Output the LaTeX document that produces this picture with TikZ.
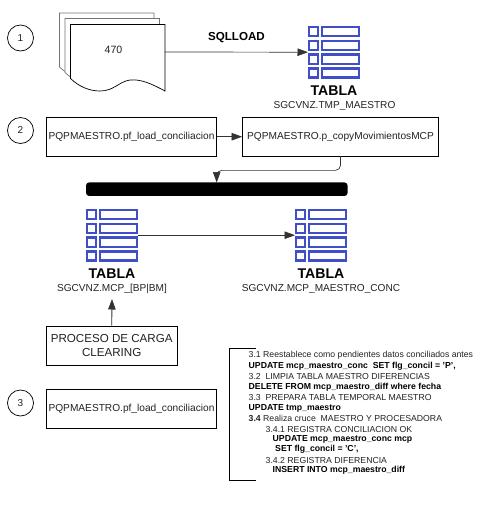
\documentclass[tikz,border=0pt]{standalone}
\usepackage{fontspec}
\setmainfont{Liberation Sans}
\usetikzlibrary{arrows.meta}
\definecolor{iconblue}{HTML}{3F4FC8}
\definecolor{linegray}{HTML}{333333}
\definecolor{txtgray}{HTML}{222222}
\newcommand{\tablaicon}[3]{%
  \node[anchor=north west,inner sep=0pt,minimum width=52,minimum height=52] (#1) at (#2,#3) {};
  \foreach \r in {0,1,2,3}{
    \draw[iconstroke] (#2+1,#3-1.1-13.75*\r) rectangle ++(9.2,-9.2);
    \draw[iconstroke] (#2+14,#3-1.1-13.75*\r) rectangle ++(37,-9.2);
  }%
}
\tikzset{
  x=1pt,y=1pt,
  iconstroke/.style={draw=iconblue,line width=2.3pt,fill=white},
  stepnum/.style={circle,draw=black,line width=0.7pt,minimum size=26,inner sep=0pt,font=\fontsize{10}{12}\selectfont,text=txtgray},
  procbox/.style={draw=black,line width=0.8pt,fill=white,inner sep=0pt,font=\fontsize{10.15}{12}\selectfont,text=txtgray,align=center},
  tabla/.style={font=\bfseries\fontsize{14.1}{16}\selectfont,text=black},
  tname/.style={font=\fontsize{10.1}{12}\selectfont,text=txtgray},
  conn/.style={draw=linegray,line width=0.7pt,-{Triangle[length=10.5pt,width=7.5pt]}},
  page/.style={fill=white,line width=0.7pt},
  code/.style={anchor=west,inner sep=0pt,font=\fontsize{8.7}{10}\selectfont,text=txtgray},
  codeb/.style={code,font=\bfseries\fontsize{8.7}{10}\selectfont,text=black},
}
\begin{document}
\begin{tikzpicture}
\useasboundingbox (0,0) rectangle (489,-507);
% document stack
\foreach \dx/\dy/\col in {0/0/gray!90!black,5.5/5.5/gray!90!black,11/11.5/black}{
  \draw[page,draw=\col] (59.5+\dx,-13-\dy) -- (154+\dx,-13-\dy) -- (154+\dx,-79.5-\dy)
    .. controls (140+\dx,-72-\dy) and (130+\dx,-67.5-\dy) .. (119+\dx,-68.5-\dy)
    .. controls (108+\dx,-70-\dy) and (103+\dx,-79.5-\dy) .. (89+\dx,-79.5-\dy)
    .. controls (78+\dx,-79.5-\dy) and (68+\dx,-75-\dy) .. (59.5+\dx,-67-\dy) -- cycle;
}
\node[inner sep=0pt,minimum width=94,minimum height=55] (doc) at (117.5,-52) {};
\node[font=\fontsize{10.6}{12}\selectfont,text=txtgray] (n470) at (113.5,-50) {470};
% step circles
\node[stepnum] (c1) at (20.5,-38) {1};
\node[stepnum] (c2) at (20.5,-130.5) {2};
\node[stepnum] (c3) at (20.5,-403) {3};
% icons
\tablaicon{t1}{308}{-26}
\tablaicon{t2}{86}{-209}
\tablaicon{t3}{295}{-209}
% table captions
\node[tabla] (l1) at (334,-91) {TABLA};
\node[tname] (n1) at (334.5,-106) {SGCVNZ.TMP\_MAESTRO};
\node[tabla] (l2) at (112,-274) {TABLA};
\node[tname] (n2) at (112,-289) {SGCVNZ.MCP\_[BP|BM]};
\node[tabla] (l3) at (321,-274) {TABLA};
\node[tname] (n3) at (321,-289) {SGCVNZ.MCP\_MAESTRO\_CONC};
% boxes
\node[procbox,minimum width=170,minimum height=38.5] (b1) at (131.5,-136.7) {PQPMAESTRO.pf\_load\_conciliacion};
\node[procbox,minimum width=196,minimum height=38.5] (b2) at (340.5,-136.7) {PQPMAESTRO.p\_copyMovimientosMCP};
\node[procbox,minimum width=130.5,minimum height=39,font=\fontsize{11.6}{14}\selectfont] (b3) at (111.7,-345.5) {PROCESO DE CARGA\\CLEARING};
\node[procbox,minimum width=170,minimum height=38.5] (b4) at (131.5,-408.7) {PQPMAESTRO.pf\_load\_conciliacion};
% bar
\node[fill=black,rounded corners=3pt,minimum width=261.5,minimum height=13.5,inner sep=0pt] (bar) at (216.8,-189.2) {};
% connectors
\draw[conn] (doc.east) -- (t1.west);
\node[font=\bfseries\fontsize{11.6}{13}\selectfont,text=black] (sql) at (236.5,-38) {SQLLOAD};
\draw[conn] (b1) -- (b2);
\coordinate (barin) at (216.7,-182.5);
\draw[conn,rounded corners=5pt] (b2.south) -- ++(0,-14) -| (barin);
\draw[conn] (t2.east) -- (t3.west);
\coordinate (n2in) at (112,-299);
\draw[conn,line width=0.9pt] (b3.north) -- (n2in);
% bracket
\coordinate (bt) at (255.5,-348);
\coordinate (bb) at (255.5,-480.5);
\draw[black,line width=0.8pt] (bt) -- (229.5,-348) -- (229.5,-480.5) -- (bb);
% code
\node[code]  (k1) at (248.5,-355.7) {3.1 Reestablece como pendientes datos conciliados antes};
\node[codeb] (k2) at (248.5,-366.5) {UPDATE mcp\_maestro\_conc\ \ SET flg\_concil = 'P',};
\node[code]  (k3) at (248.5,-376.8) {3.2\ \ LIMPIA TABLA MAESTRO DIFERENCIAS};
\node[codeb] (k4) at (248.5,-387.5) {DELETE FROM mcp\_maestro\_diff where fecha};
\node[code]  (k5) at (248.5,-397.5) {3.3\ \ PREPARA TABLA TEMPORAL MAESTRO};
\node[codeb] (k6) at (248.5,-408) {UPDATE tmp\_maestro};
\node[code]  (k7) at (248.5,-418.3) {\textbf{3.4} Realiza cruce\ \ MAESTRO Y PROCESADORA};
\node[code]  (k8) at (265.5,-429) {3.4.1 REGISTRA CONCILIACION OK};
\node[codeb] (k9) at (272.5,-439.3) {UPDATE mcp\_maestro\_conc mcp};
\node[codeb] (k10) at (275,-449.5) {SET flg\_concil = 'C',};
\node[code]  (k11) at (265.5,-460) {3.4.2 REGISTRA DIFERENCIA};
\node[codeb] (k12) at (272.5,-470.5) {INSERT INTO mcp\_maestro\_diff};
\end{tikzpicture}
\end{document}
